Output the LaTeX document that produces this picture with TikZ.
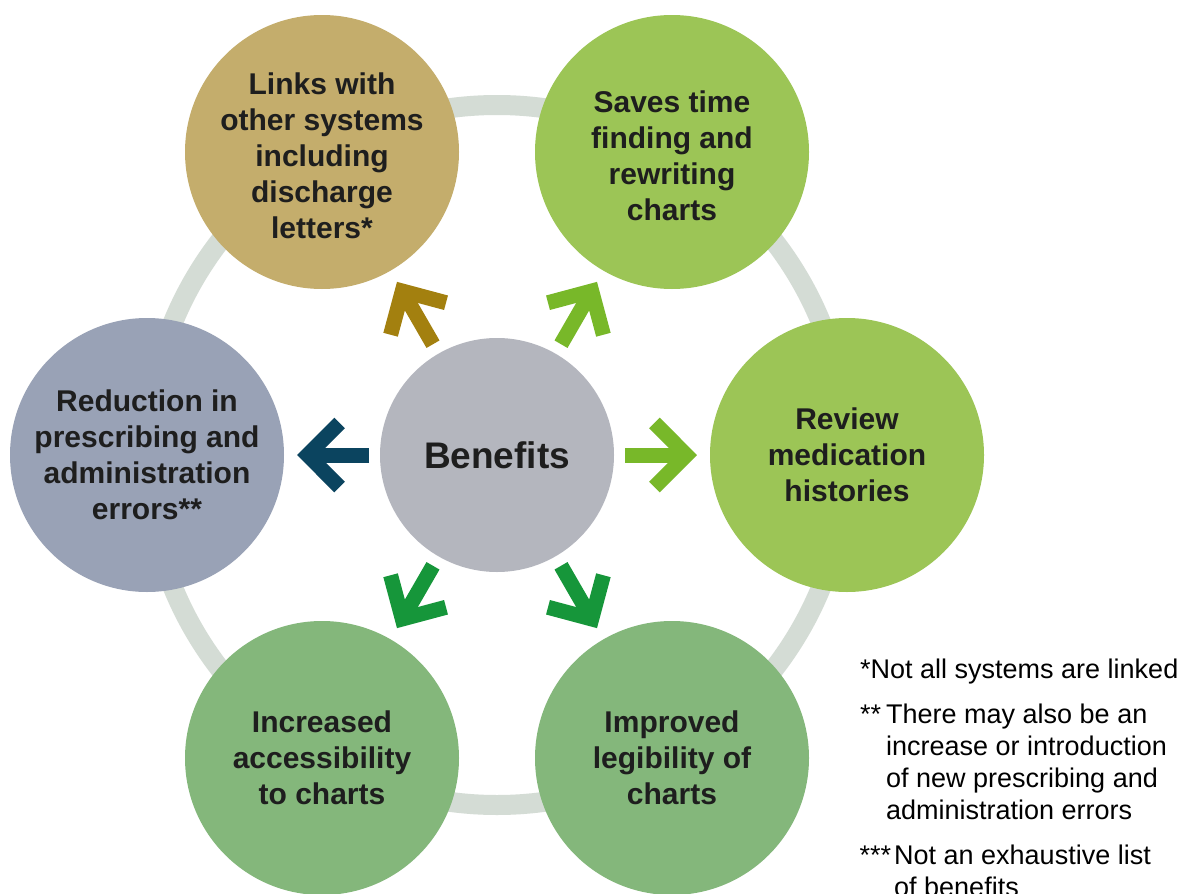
\documentclass[tikz,border=0pt]{standalone}
\usepackage{fontspec}
\setmainfont{Liberation Sans}
\usetikzlibrary{calc}

\definecolor{ringgrey}{HTML}{D4DCD5}
\definecolor{tanfill}{HTML}{C4AD6C}
\definecolor{tanarrow}{HTML}{A3800F}
\definecolor{limefill}{HTML}{9CC556}
\definecolor{limearrow}{HTML}{78B829}
\definecolor{sagefill}{HTML}{84B77B}
\definecolor{greenarrow}{HTML}{16963A}
\definecolor{slatefill}{HTML}{99A2B6}
\definecolor{navyarrow}{HTML}{0B445F}
\definecolor{hubfill}{HTML}{B4B6BE}
\definecolor{inktext}{HTML}{1E1E1E}

\begin{document}
\begin{tikzpicture}[x=1pt,y=-1pt,
  ring/.style={draw=ringgrey, line width=20pt},
  bubble/.style={circle, minimum size=274pt, inner sep=0pt, fill=#1},
  bubbletext/.style={align=center, text=inktext, inner sep=0pt,
    font=\bfseries\fontsize{30}{36}\selectfont},
  hub/.style={circle, minimum size=234pt, inner sep=0pt, fill=hubfill,
    text=inktext, font=\bfseries\fontsize{37}{44}\selectfont},
  shaft/.style={draw=#1, line width=15pt, line cap=butt},
  chevron/.style={draw=#1, line width=15pt, line join=miter, line cap=butt},
  note/.style={anchor=base west, inner sep=0pt, text=black,
    font=\fontsize{27}{32}\selectfont}
]
\useasboundingbox (0,0) rectangle (1184,894);
\fill[white] (0,0) rectangle (1184,894);

% background ring linking the six outer bubbles
\coordinate (hubc) at (497,455);
\draw[ring] (hubc) circle[radius=350];

% outer bubbles
\node[bubble=tanfill]   (o1) at (322,152) {};
\node[bubble=limefill]  (o2) at (672,152) {};
\node[bubble=limefill]  (o3) at (847,455) {};
\node[bubble=sagefill]  (o4) at (672,758) {};
\node[bubble=sagefill]  (o5) at (322,758) {};
\node[bubble=slatefill] (o6) at (147,455) {};

% central hub
\node[hub] (ben) at (hubc) {Benefits};

% chevron arrows pointing from the hub to each bubble
\foreach \o/\c in {o1/tanarrow, o2/limearrow, o3/limearrow,
                   o4/greenarrow, o5/greenarrow, o6/navyarrow}{
  \coordinate (s) at ($(ben)!0.3657!(\o)$);
  \coordinate (e) at ($(ben)!0.543!(\o)$);
  \coordinate (v) at ($(ben)!0.5411!(\o)$);
  \coordinate (b) at ($(ben)!0.4497!(\o)$);
  \draw[shaft=\c] (s) -- (e);
  \draw[chevron=\c] ($(b)!32pt!90:(\o)$) -- (v) -- ($(b)!32pt!-90:(\o)$);
}

% bubble labels
\node[bubbletext] (t1) at ([yshift=-4pt]o1.center)
  {Links with\\other systems\\including\\discharge\\letters*};
\node[bubbletext] (t2) at ([yshift=-4pt]o2.center)
  {Saves time\\finding and\\rewriting\\charts};
\node[bubbletext] (t3) at (o3.center)
  {Review\\medication\\histories};
\node[bubbletext] (t4) at (o4.center)
  {Improved\\legibility of\\charts};
\node[bubbletext] (t5) at (o5.center)
  {Increased\\accessibility\\to charts};
\node[bubbletext] (t6) at (o6.center)
  {Reduction in\\prescribing and\\administration\\errors**};

% footnotes
\node[note] (n1) at (860,678) {*Not all systems are linked};
\node[note] (n2) at (886,723) {\parbox[t]{300pt}{\raggedright
  \leavevmode\llap{**\hspace{5pt}}There may also be an\\
  increase or introduction\\of new prescribing and\\administration errors}};
\node[note] (n3) at (894,864) {\parbox[t]{300pt}{\raggedright
  \leavevmode\llap{***\hspace{3pt}}Not an exhaustive list\\of benefits}};
\end{tikzpicture}
\end{document}
